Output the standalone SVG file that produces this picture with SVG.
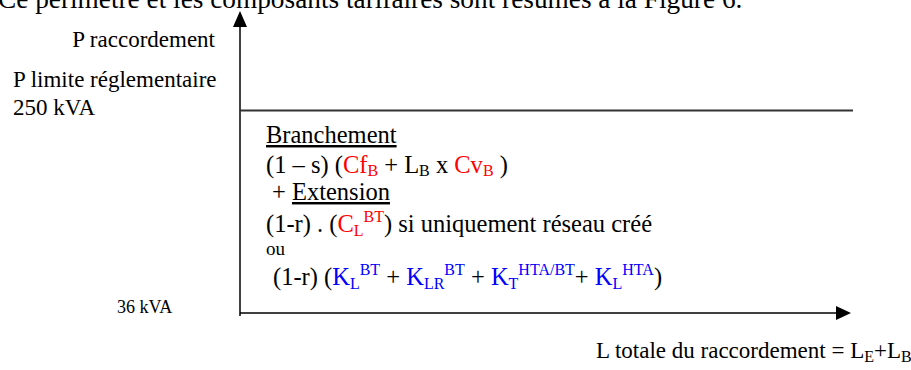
<svg xmlns="http://www.w3.org/2000/svg" width="911" height="370" viewBox="0 0 911 370">
<defs>
<style>
text{font-family:"Liberation Serif","Times New Roman",serif;fill:#000;}
.t{font-size:23px;}
.f{font-size:24.5px;}
.r{fill:#ff0000;}
.b{fill:#0000ff;}
.s{font-size:16px;}
.ax{stroke:#000;stroke-width:1.5;fill:none;}
</style>
</defs>
<rect width="911" height="370" fill="#fff"/>
<text x="-2" y="8" style="font-size:27.3px">Ce périmètre et les composants tarifaires sont résumés à la Figure 6.</text>
<g id="connectors">
<line class="ax" x1="240" y1="316" x2="240" y2="27"/>
<path d="M240,11 L233,27 L247,27 Z" fill="#000"/>
<line class="ax" x1="240" y1="313" x2="836" y2="313"/>
<path d="M851,313 L836,306 L836,320 Z" fill="#000"/>
<line x1="240" y1="110.5" x2="853" y2="110.5" stroke="#333" stroke-width="1.8"/>
</g>
<g id="ylabels">
<text class="t" x="215" y="47" text-anchor="end">P raccordement</text>
<text class="t" x="13" y="87">P limite réglementaire</text>
<text class="t" x="13" y="115">250 kVA</text>
<text x="117" y="313" style="font-size:18px">36 kVA</text>
</g>
<g id="formula">
<text class="f" x="266" y="143" text-decoration="underline">Branchement</text>
<text class="f" x="266" y="173">(1 – s) (<tspan class="r">Cf</tspan><tspan class="r s" dy="3">B</tspan><tspan dy="-3"> + L</tspan><tspan class="s" dy="3">B</tspan><tspan dy="-3"> x </tspan><tspan class="r">Cv</tspan><tspan class="r s" dy="3">B</tspan><tspan dy="-3"> )</tspan></text>
<text class="f" x="272" y="200">+ <tspan text-decoration="underline">Extension</tspan></text>
<text class="f" x="266" y="232">(1-r) . (<tspan class="r">C</tspan><tspan class="r s" dy="4">L</tspan><tspan class="r s" dy="-14">BT</tspan><tspan dy="10">) si uniquement réseau créé</tspan></text>
<text x="266" y="255" style="font-size:19px">ou</text>
<text class="f" x="273" y="285">(1-r) (<tspan class="b">K</tspan><tspan class="b s" dy="4">L</tspan><tspan class="b s" dy="-14">BT</tspan><tspan dy="10"> + </tspan><tspan class="b">K</tspan><tspan class="b s" dy="4">LR</tspan><tspan class="b s" dy="-14">BT</tspan><tspan dy="10"> + </tspan><tspan class="b">K</tspan><tspan class="b s" dy="4">T</tspan><tspan class="b s" dy="-14">HTA/BT</tspan><tspan dy="10">+ </tspan><tspan class="b">K</tspan><tspan class="b s" dy="4">L</tspan><tspan class="b s" dy="-14">HTA</tspan><tspan dy="10">)</tspan></text>
</g>
<g id="xlabel">
<text class="t" x="596" y="358">L totale du raccordement = L<tspan class="s" dy="4">E</tspan><tspan dy="-4">+L</tspan><tspan class="s" dy="4">B</tspan></text>
</g>
</svg>
